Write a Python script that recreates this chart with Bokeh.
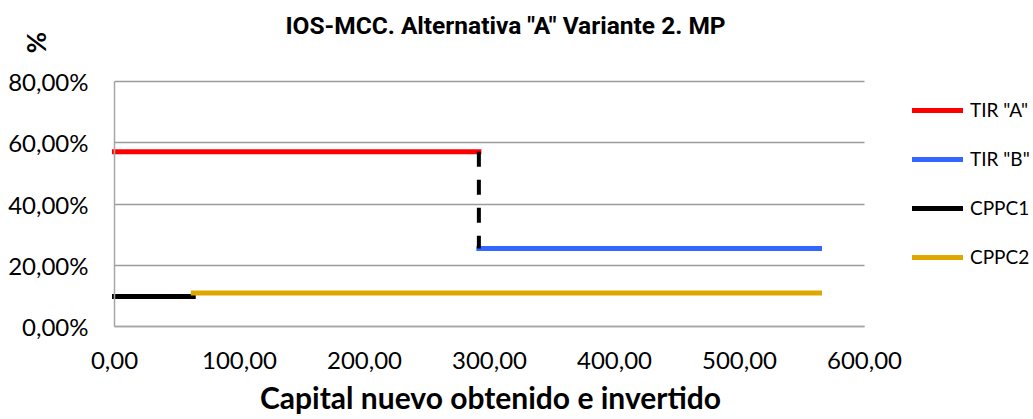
from bokeh.plotting import figure
from bokeh.models import (ColumnDataSource, FixedTicker, CustomJSTickFormatter,
                          Legend, LegendItem, Label, Range1d)
from bokeh.embed import file_html
from bokeh.resources import INLINE
import math

# ---- data ----
tir_a_x = [0, 291.5]
tir_a_y = [57.1, 57.1]
tir_b_x = [291.5, 564]
tir_b_y = [25.5, 25.5]
cppc1_x = [0, 63]
cppc1_y = [9.8, 9.8]
cppc2_x = [63, 564]
cppc2_y = [10.9, 10.9]
jump_x = [291.5, 291.5]
jump_y = [57.1, 25.5]

x_ticks = [0, 100, 200, 300, 400, 500, 600]
y_ticks = [0, 20, 40, 60, 80]

title_text = 'IOS-MCC. Alternativa "A" Variante 2. MP'
x_title = "Capital nuevo obtenido e invertido"
y_title = "%"
names = ['TIR "A"', 'TIR "B"', "CPPC1", "CPPC2"]
colors = ["#ff0000", "#3366ff", "#000000", "#dfa800"]

# ---- layout (pixels) ----
W, H = 1033, 419
PL, PR, PT, PB = 114, 864, 81, 326          # plot area edges in the picture
xmin, xmax = x_ticks[0], x_ticks[-1]
ymin, ymax = y_ticks[0], y_ticks[-1]
sx = (PR - PL) / (xmax - xmin)
sy = (PB - PT) / (ymax - ymin)

p = figure(width=W, height=H, output_backend="svg", toolbar_location=None,
           x_range=Range1d(xmin - PL / sx, xmax + (W - PR) / sx),
           y_range=Range1d(ymin - (H - PB) / sy, ymax + PT / sy),
           title_location=None,
           min_border_left=0, min_border_right=0, min_border_top=0, min_border_bottom=0)
p.outline_line_color = None
p.background_fill_color = "white"
p.border_fill_color = "white"

series = [(tir_a_x, tir_a_y), (tir_b_x, tir_b_y), (cppc1_x, cppc1_y), (cppc2_x, cppc2_y)]
renderers = []
for (xs, ys), c in zip(series, colors):
    src = ColumnDataSource(dict(x=xs, y=ys))
    r = p.line("x", "y", source=src, line_color=c, line_width=5, line_cap="square")
    renderers.append(r)

jsrc = ColumnDataSource(dict(x=jump_x, y=jump_y))
p.line("x", "y", source=jsrc, line_color="black", line_width=4, line_dash="15 13")

# axes (placed inside the frame at fixed locations)
xa, ya = p.xaxis[0], p.yaxis[0]
xa.fixed_location = ymin
ya.fixed_location = xmin
xa.bounds = (xmin, xmax)
ya.bounds = (ymin, ymax)
for ax in (xa, ya):
    ax.major_tick_out = 0
    ax.major_tick_in = 0
    ax.minor_tick_out = 0
    ax.minor_tick_in = 0
    ax.axis_line_color = "#a6a6a6"
    ax.axis_line_width = 1.5
    ax.major_label_text_font = "Lato"
    ax.major_label_text_font_size = "24px"
    ax.major_label_text_color = "black"

xa.ticker = FixedTicker(ticks=x_ticks)
ya.ticker = FixedTicker(ticks=y_ticks)
xa.formatter = CustomJSTickFormatter(code="return tick.toFixed(2).replace('.', ',');")
ya.formatter = CustomJSTickFormatter(code="return tick.toFixed(2).replace('.', ',') + '%';")
ya.major_label_standoff = 26
xa.major_label_standoff = 25

p.xgrid.grid_line_color = None
p.ygrid.grid_line_color = "#9c9c9c"
p.ygrid.grid_line_width = 1.5
p.ygrid.ticker = FixedTicker(ticks=y_ticks)
p.ygrid.bounds = (ymin, ymax)
p.ygrid.cross_bounds = (xmin, xmax)

# legend
items = [LegendItem(label=n, renderers=[r]) for n, r in zip(names, renderers)]
leg = Legend(items=items, location=(912, H - 268), orientation="vertical",
             glyph_width=51, glyph_height=20, label_height=20, spacing=26,
             label_standoff=7, padding=0, margin=0,
             label_text_font="Lato", label_text_font_size="19px",
             label_text_color="black",
             border_line_color=None, background_fill_alpha=0)
p.add_layout(leg, "center")

# titles
p.add_layout(Label(x=505, y=H - 25, x_units="screen", y_units="screen", text=title_text,
                   text_font="Roboto", text_font_style="bold", text_color="black",
                   text_font_size="24.5px", text_align="center", text_baseline="alphabetic"))
p.add_layout(Label(x=490, y=H - 396, x_units="screen", y_units="screen", text=x_title,
                   text_font="Lato", text_font_style="bold", text_color="black",
                   text_font_size="30px", text_align="center", text_baseline="alphabetic"))
p.add_layout(Label(x=35, y=H - 42, x_units="screen", y_units="screen", text=y_title,
                   text_font="Lato", text_font_style="bold", angle=math.pi / 2,
                   text_color="black",
                   text_font_size="26px", text_align="center", text_baseline="middle"))

open("out.html", "w").write(file_html(p, INLINE))
